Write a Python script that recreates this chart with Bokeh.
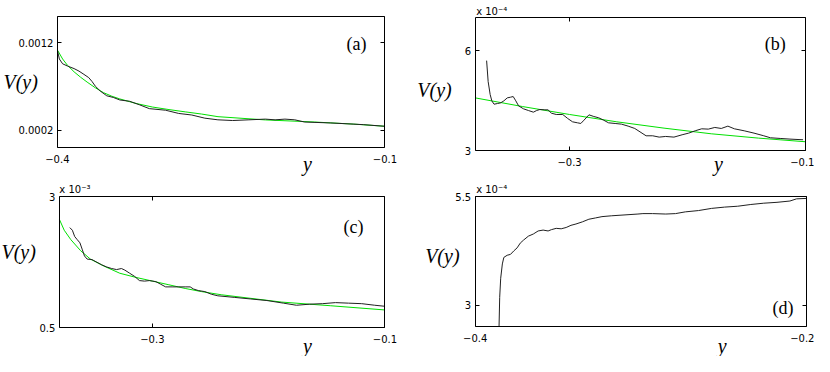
from bokeh.plotting import figure
from bokeh.models import Range1d, LinearAxis, FixedTicker, Label
from bokeh.layouts import column, row
from bokeh.embed import file_html
from bokeh.resources import INLINE

# ---------------- data ----------------
# panel (a)  (V in real units)
a_black_y = [-0.4, -0.3982, -0.3952, -0.3907, -0.3847, -0.3802, -0.3757, -0.3713, -0.3683,
             -0.3652, -0.3607, -0.3548, -0.3488, -0.3428, -0.3338, -0.3248, -0.3158, -0.3009,
             -0.2889, -0.2769, -0.265, -0.253, -0.2395, -0.2246, -0.2096, -0.2006, -0.1916,
             -0.1826, -0.1737, -0.1497, -0.1198, -0.1]
a_black_V = [1.12e-3, 1.017e-3, 0.962e-3, 0.936e-3, 0.907e-3, 0.878e-3, 0.841e-3, 0.804e-3, 0.76e-3,
             0.705e-3, 0.65e-3, 0.596e-3, 0.577e-3, 0.548e-3, 0.533e-3, 0.493e-3, 0.449e-3, 0.431e-3,
             0.394e-3, 0.376e-3, 0.34e-3, 0.321e-3, 0.313e-3, 0.321e-3, 0.329e-3, 0.321e-3, 0.329e-3,
             0.321e-3, 0.296e-3, 0.285e-3, 0.266e-3, 0.247e-3]
a_green_y = [-0.4, -0.3952, -0.3907, -0.3847, -0.3787, -0.3728, -0.3652, -0.3578, -0.3503, -0.3428,
             -0.3279, -0.3128, -0.2978, -0.2829, -0.2679, -0.2529, -0.2095, -0.1646, -0.1287, -0.1]
a_green_V = [1.12e-3, 1.017e-3, 0.944e-3, 0.87e-3, 0.808e-3, 0.753e-3, 0.687e-3, 0.632e-3, 0.592e-3,
             0.56e-3, 0.508e-3, 0.467e-3, 0.438e-3, 0.412e-3, 0.387e-3, 0.357e-3, 0.32e-3, 0.296e-3,
             0.272e-3, 0.247e-3]
a_xticks = [-0.4, -0.1]
a_xlabels = ["\u22120.4", "\u22120.1"]
a_yticks = [0.0002, 0.0012]
a_ylabels = ["0.0002", "0.0012"]

# panel (b)  (V in units of 1e-4)
b_black_y = [-0.3703, -0.369, -0.3673, -0.3659, -0.364, -0.3611, -0.3584, -0.3557, -0.3528, -0.3501,
             -0.3478, -0.3459, -0.3432, -0.339, -0.3349, -0.3307, -0.3279, -0.3252, -0.321, -0.3183,
             -0.3154, -0.3113, -0.3058, -0.3016, -0.2975, -0.2933, -0.2905, -0.2878, -0.2836, -0.2795,
             -0.2753, -0.2712, -0.267, -0.2614, -0.256, -0.2504, -0.2448, -0.2352, -0.2296, -0.2241,
             -0.2186, -0.2116, -0.2047, -0.1991, -0.1936, -0.1881, -0.1825, -0.177, -0.1715, -0.1659,
             -0.1604, -0.1521, -0.1438, -0.1355, -0.1299, -0.1216, -0.1133, -0.1022]
b_black_V = [5.71, 5.08, 4.69, 4.50, 4.40, 4.42, 4.44, 4.50, 4.59, 4.61,
             4.63, 4.52, 4.35, 4.26, 4.21, 4.16, 4.21, 4.24, 4.23, 4.23,
             4.13, 4.09, 4.09, 3.97, 3.87, 3.84, 3.82, 3.92, 4.08, 4.03,
             3.99, 3.92, 3.84, 3.82, 3.80, 3.74, 3.67, 3.45, 3.45, 3.41,
             3.43, 3.41, 3.48, 3.53, 3.60, 3.66, 3.65, 3.70, 3.67, 3.74,
             3.66, 3.60, 3.53, 3.45, 3.39, 3.37, 3.35, 3.33]
b_green_y = [-0.38, -0.34, -0.30, -0.26, -0.22, -0.18, -0.14, -0.10]
b_green_V = [4.59, 4.33, 4.09, 3.87, 3.68, 3.51, 3.38, 3.27]
b_xticks = [-0.3, -0.1]
b_xlabels = ["\u22120.3", "\u22120.1"]
b_yticks = [3, 6]
b_ylabels = ["3", "6"]

# panel (c)  (V in units of 1e-3)
c_black_y = [-0.371, -0.3688, -0.3668, -0.3646, -0.3623, -0.3604, -0.3584, -0.3561, -0.3519, -0.3477,
             -0.3435, -0.3393, -0.335, -0.3308, -0.3266, -0.3237, -0.3195, -0.3153, -0.3111, -0.3068,
             -0.3026, -0.297, -0.2928, -0.2886, -0.283, -0.2774, -0.2718, -0.2675, -0.2647, -0.2605,
             -0.2549, -0.2493, -0.2437, -0.2296, -0.2156, -0.2015, -0.1873, -0.1761, -0.1649, -0.1536,
             -0.1425, -0.1313, -0.12, -0.1088, -0.1]
c_black_V = [2.41, 2.36, 2.24, 2.18, 2.12, 2.00, 1.87, 1.81, 1.80, 1.75,
             1.70, 1.66, 1.63, 1.61, 1.63, 1.60, 1.54, 1.48, 1.40, 1.39,
             1.40, 1.38, 1.33, 1.28, 1.28, 1.28, 1.28, 1.28, 1.24, 1.21,
             1.19, 1.14, 1.11, 1.08, 1.05, 1.02, 0.97, 0.93, 0.95, 0.96,
             0.98, 0.97, 0.96, 0.93, 0.91]
c_green_y = [-0.38, -0.3758, -0.3701, -0.3617, -0.3533, -0.342, -0.328, -0.314, -0.2999, -0.2858,
             -0.2718, -0.2577, -0.2408, -0.1888, -0.1466, -0.1]
c_green_V = [2.57, 2.36, 2.18, 1.97, 1.81, 1.68, 1.54, 1.46, 1.39, 1.32,
             1.25, 1.19, 1.13, 0.99, 0.92, 0.84]
c_xticks = [-0.3, -0.1]
c_xlabels = ["\u22120.3", "\u22120.1"]
c_yticks = [0.5, 3]
c_ylabels = ["0.5", "3"]

# panel (d)  (V in units of 1e-4)
d_black_y = [-0.3856, -0.3852, -0.3846, -0.3836, -0.3827, -0.3807, -0.3787, -0.3767, -0.3747, -0.3728,
             -0.3708, -0.3679, -0.3649, -0.362, -0.359, -0.356, -0.354, -0.3511, -0.3481, -0.3451,
             -0.3422, -0.3392, -0.3353, -0.3314, -0.3274, -0.3235, -0.3176, -0.3096, -0.3018, -0.2988,
             -0.2929, -0.285, -0.2791, -0.2732, -0.2653, -0.2574, -0.2495, -0.2416, -0.2337, -0.2259,
             -0.2179, -0.2101, -0.2061, -0.2002]
d_black_V = [2.50, 3.18, 3.62, 3.95, 4.10, 4.15, 4.17, 4.25, 4.32, 4.43,
             4.50, 4.59, 4.64, 4.71, 4.73, 4.71, 4.74, 4.77, 4.76, 4.79,
             4.84, 4.87, 4.92, 4.98, 5.01, 5.04, 5.06, 5.08, 5.10, 5.11,
             5.11, 5.10, 5.11, 5.15, 5.18, 5.23, 5.26, 5.28, 5.32, 5.35,
             5.37, 5.40, 5.45, 5.46]
d_xticks = [-0.4, -0.2]
d_xlabels = ["\u22120.4", "\u22120.2"]
d_yticks = [3, 5.5]
d_ylabels = ["3", "5.5"]

# ---------------- layout helpers ----------------
BLACK = "#202020"
GREEN = "#00e000"
SANS = "DejaVu Sans"
SERIF = "Liberation Serif"
TOTAL_W, TOTAL_H = 814, 356
SX, SY = TOTAL_W / 830.0, TOTAL_H / 372.0   # reference pixels -> page pixels


class Panel:
    def __init__(self, origin, size, box, xr, yr):
        ox, oy = origin
        self.fw, self.fh = size
        self.ox, self.oy = ox * SX, oy * SY
        L, R, T, B = (box[0] * SX - self.ox, box[1] * SX - self.ox,
                      box[2] * SY - self.oy, box[3] * SY - self.oy)
        x0, x1 = xr
        y0, y1 = yr
        kx = (x1 - x0) / (R - L)
        ky = (y1 - y0) / (B - T)
        self.xs, self.xe = x0 - L * kx, x1 + (self.fw - R) * kx
        self.ys, self.ye = y0 - (self.fh - B) * ky, y1 + T * ky
        self.xr, self.yr = xr, yr
        self.p = figure(width=self.fw, height=self.fh, output_backend="svg", toolbar_location=None,
                        x_range=Range1d(self.xs, self.xe), y_range=Range1d(self.ys, self.ye),
                        x_axis_location=None, y_axis_location=None,
                        min_border=0, min_border_left=0, min_border_right=0,
                        min_border_top=0, min_border_bottom=0,
                        background_fill_color="white", border_fill_color="white")
        self.p.outline_line_color = None
        self.p.xgrid.visible = False
        self.p.ygrid.visible = False

    def to_data(self, px, py):
        fx = px * SX - self.ox
        fy = py * SY - self.oy
        return (self.xs + fx / self.fw * (self.xe - self.xs),
                self.ye - fy / self.fh * (self.ye - self.ys))

    def axes(self, xt, xl, yt, yl):
        x0, x1 = self.xr
        y0, y1 = self.yr
        spec = [("below", x0, x1, y0, xt, xl, True, 7),
                ("above", x0, x1, y1, xt, xl, False, 0),
                ("left", y0, y1, x0, yt, yl, True, 4),
                ("right", y0, y1, x1, yt, yl, False, 0)]
        for side, b0, b1, loc, ticks, labels, show, standoff in spec:
            ax = LinearAxis(fixed_location=loc, bounds=(b0, b1),
                            ticker=FixedTicker(ticks=ticks),
                            major_label_overrides=dict(zip(ticks, labels)))
            ax.axis_line_color = "black"
            ax.axis_line_width = 1
            ax.major_tick_in = 4
            ax.major_tick_out = 0
            ax.major_tick_line_color = "black"
            ax.minor_tick_line_color = None
            ax.major_label_text_font = SANS
            ax.major_label_text_font_size = "10px"
            ax.major_label_text_color = "black" if show else None
            ax.major_label_standoff = standoff
            self.p.add_layout(ax, side)

    def text(self, px, py, text, font, size, style="normal", align="left", baseline="middle"):
        x, y = self.to_data(px, py)
        self.p.add_layout(Label(x=x, y=y, text=text, text_font=font, text_font_size=size,
                                text_font_style=style, text_align=align, text_baseline=baseline,
                                text_color="black"))


# (a)
A = Panel((0, 0), (407, 178), (58, 392, 17, 154), (-0.4, -0.1), (0, 0.0015))
A.axes(a_xticks, a_xlabels, a_yticks, a_ylabels)
A.p.line(a_green_y, a_green_V, line_color=GREEN, line_width=1)
A.p.line(a_black_y, a_black_V, line_color=BLACK, line_width=1)
A.text(3, 85, "V(y)", SERIF, "20px", "italic")
A.text(363, 45.5, "(a)", SERIF, "18px", align="center")
A.text(313, 171, "y", SERIF, "20px", "italic", align="center", baseline="alphabetic")

# (b)
B = Panel((415, 0), (407, 178), (484, 821, 18, 157), (-0.38, -0.1), (3, 7))
B.axes(b_xticks, b_xlabels, b_yticks, b_ylabels)
B.p.line(b_green_y, b_green_V, line_color=GREEN, line_width=1)
B.p.line(b_black_y, b_black_V, line_color=BLACK, line_width=1)
B.text(425, 93, "V(y)", SERIF, "20px", "italic")
B.text(790, 45.5, "(b)", SERIF, "18px", align="center")
B.text(732, 171, "y", SERIF, "20px", "italic", align="center", baseline="alphabetic")
B.text(485, 12, "x 10\u207b\u2074", SANS, "10px", baseline="alphabetic")

# (c)
C = Panel((0, 186), (407, 178), (60, 392, 205, 342), (-0.38, -0.1), (0.5, 3))
C.axes(c_xticks, c_xlabels, c_yticks, c_ylabels)
C.p.line(c_green_y, c_green_V, line_color=GREEN, line_width=1)
C.p.line(c_black_y, c_black_V, line_color=BLACK, line_width=1)
C.text(1, 263, "V(y)", SERIF, "20px", "italic")
C.text(360, 237, "(c)", SERIF, "18px", align="center")
C.text(313, 361, "y", SERIF, "20px", "italic", align="center", baseline="alphabetic")
C.text(60, 198, "x 10\u207b\u00b3", SANS, "10px", baseline="alphabetic")

# (d)
D = Panel((415, 186), (407, 178), (484, 822, 205, 341), (-0.4, -0.2), (2.5, 5.5))
D.axes(d_xticks, d_xlabels, d_yticks, d_ylabels)
D.p.line(d_black_y, d_black_V, line_color=BLACK, line_width=1)
D.text(433, 267, "V(y)", SERIF, "20px", "italic")
D.text(798, 321, "(d)", SERIF, "18px", align="center")
D.text(736, 361, "y", SERIF, "20px", "italic", align="center", baseline="alphabetic")
D.text(485, 198, "x 10\u207b\u2074", SANS, "10px", baseline="alphabetic")

layout = column(row(A.p, B.p), row(C.p, D.p))
open("out.html", "w").write(file_html(layout, INLINE))
